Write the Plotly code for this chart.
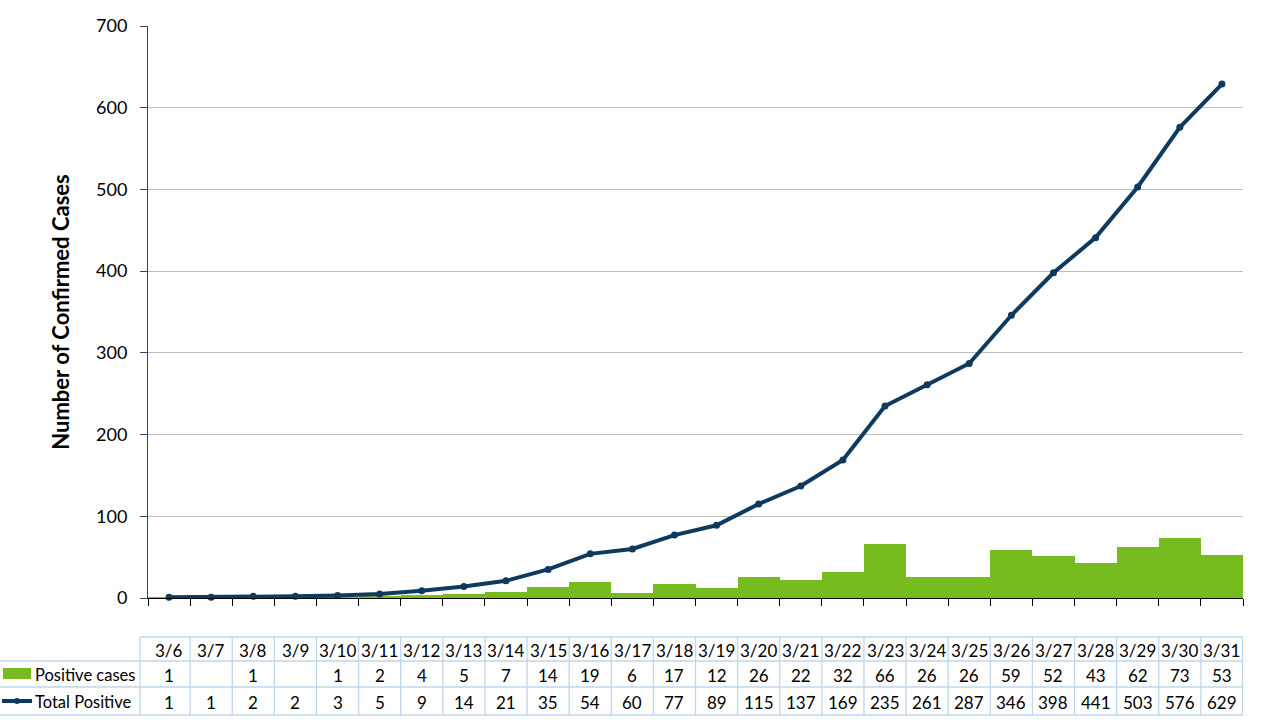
import plotly.graph_objects as go

dates = ["3/6", "3/7", "3/8", "3/9", "3/10", "3/11", "3/12", "3/13", "3/14", "3/15",
         "3/16", "3/17", "3/18", "3/19", "3/20", "3/21", "3/22", "3/23", "3/24", "3/25",
         "3/26", "3/27", "3/28", "3/29", "3/30", "3/31"]
positive_cases = [1, None, 1, None, 1, 2, 4, 5, 7, 14, 19, 6, 17, 12, 26, 22, 32, 66,
                  26, 26, 59, 52, 43, 62, 73, 53]
total_positive = [1, 1, 2, 2, 3, 5, 9, 14, 21, 35, 54, 60, 77, 89, 115, 137, 169, 235,
                  261, 287, 346, 398, 441, 503, 576, 629]
series_names = ["Positive cases", "Total Positive"]
y_title = "Number of Confirmed Cases"

GREEN = "#77BC1F"
NAVY = "#0E3A5F"
AXIS = "#1F4E79"
GRID = "#BFBFBF"
TBL = "#BDD7EE"
FONT = "Lato"

W, H = 1280, 720
L, R, T, B = 148, 37, 26, 122
PW, PH = W - L - R, H - T - B


def px(xp):
    return (xp - L) / PW


def py(yp):
    return (H - B - yp) / PH


fig = go.Figure()
fig.add_trace(go.Bar(x=dates, y=positive_cases, name=series_names[0],
                     marker=dict(color=GREEN, line=dict(width=0)), showlegend=False))
fig.add_trace(go.Scatter(x=dates, y=total_positive, name=series_names[1], mode="lines+markers",
                         line=dict(color=NAVY, width=4), marker=dict(color=NAVY, size=7),
                         showlegend=False, cliponaxis=False))

shapes = []
annotations = []

y_top, y1, y2, y_bot = 637, 661, 687, 715
row_centers = [(y_top + y1) / 2 + 1, (y1 + y2) / 2 + 1, (y2 + y_bot) / 2 + 1]
line_style = dict(color=TBL, width=1.3)

shapes.append(dict(type="line", xref="paper", yref="paper", x0=px(140), x1=px(1243),
                   y0=py(y_top), y1=py(y_top), line=line_style))
for yy in (y1, y2, y_bot):
    shapes.append(dict(type="line", xref="paper", yref="paper", x0=px(0), x1=px(1243),
                       y0=py(yy), y1=py(yy), line=line_style))
shapes.append(dict(type="line", xref="paper", yref="paper", x0=px(140), x1=px(140),
                   y0=py(y_top), y1=py(y_bot), line=line_style))
n = len(dates)
for i in range(1, n + 1):
    xv = px(L + PW * i / n) - (0.5 / PW if i == n else 0)
    shapes.append(dict(type="line", xref="paper", yref="paper", x0=xv, x1=xv,
                       y0=py(y_top), y1=py(y_bot), line=line_style))

cell_font = dict(size=17, color="#000", family=FONT)
for i, d in enumerate(dates):
    xc = px(L + PW * (i + 0.5) / n)
    annotations.append(dict(x=xc, y=py(row_centers[0]), xref="paper", yref="paper", text=d,
                            showarrow=False, xanchor="center", yanchor="middle", font=cell_font))
    pv = positive_cases[i]
    if pv is not None:
        annotations.append(dict(x=xc, y=py(row_centers[1]), xref="paper", yref="paper",
                                text=str(pv), showarrow=False, xanchor="center",
                                yanchor="middle", font=cell_font))
    annotations.append(dict(x=xc, y=py(row_centers[2]), xref="paper", yref="paper",
                            text=str(total_positive[i]), showarrow=False, xanchor="center",
                            yanchor="middle", font=cell_font))

shapes.append(dict(type="rect", xref="paper", yref="paper", x0=px(3), x1=px(31),
                   y0=py(679), y1=py(668), fillcolor=GREEN, line=dict(width=0)))
shapes.append(dict(type="line", xref="paper", yref="paper", x0=px(2), x1=px(32),
                   y0=py(701), y1=py(701), line=dict(color=NAVY, width=4)))
shapes.append(dict(type="circle", xref="paper", yref="paper", x0=px(14), x1=px(20),
                   y0=py(704), y1=py(698), fillcolor=NAVY, line=dict(width=0)))
label_font = dict(size=16.5, color="#000", family=FONT)
annotations.append(dict(x=px(33), y=py(row_centers[1]), xref="paper", yref="paper",
                        text=series_names[0], showarrow=False, xanchor="left",
                        yanchor="middle", font=label_font))
annotations.append(dict(x=px(33), y=py(row_centers[2]), xref="paper", yref="paper",
                        text=series_names[1], showarrow=False, xanchor="left",
                        yanchor="middle", font=label_font))

fig.update_layout(
    width=W, height=H,
    margin=dict(l=L, r=R, t=T, b=B),
    paper_bgcolor="white", plot_bgcolor="white",
    bargap=0,
    font=dict(family=FONT, color="#000"),
    shapes=shapes,
    annotations=annotations,
    xaxis=dict(type="category", range=[-0.5, n - 0.5], showticklabels=False,
               ticks="outside", tickson="boundaries", ticklen=7, tickcolor="#000",
               showline=True, linecolor="#000", linewidth=1, showgrid=False, zeroline=False),
    yaxis=dict(range=[0, 700], dtick=100, ticks="outside", ticklen=7, tickcolor=AXIS,
               showline=True, linecolor=AXIS, linewidth=1, showgrid=True, gridcolor=GRID,
               gridwidth=1, zeroline=False, tickfont=dict(size=18, family=FONT),
               ticklabelstandoff=9,
               title=dict(text="<b>" + y_title + "</b>", font=dict(size=22, family=FONT),
                          standoff=20)),
)

fig.write_html("out.html")
